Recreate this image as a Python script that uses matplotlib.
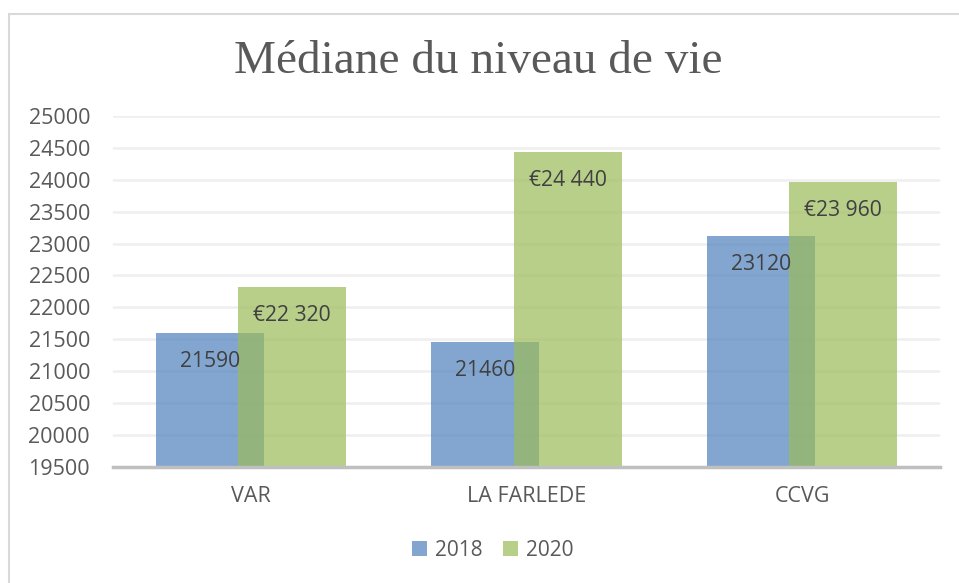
import matplotlib
matplotlib.use("Agg")
import matplotlib.pyplot as plt
from matplotlib.patches import Rectangle
import numpy as np

categories = ["VAR", "LA FARLEDE", "CCVG"]
series_names = ["2018", "2020"]
values_2018 = [21590, 21460, 23120]
values_2020 = [22320, 24440, 23960]
labels_2018 = ["21590", "21460", "23120"]
labels_2020 = ["€22 320", "€24 440", "€23 960"]
yticks = list(range(19500, 25001, 500))

plt.rcParams['font.family'] = ['Open Sans', 'DejaVu Sans']

W, H = 959, 583
fig = plt.figure(figsize=(W / 100, H / 100), dpi=100)
fig.patch.set_facecolor("white")

# outer chart border
fig.patches.append(Rectangle((8.5 / W, -0.05), 1.2, (583 - 13.5) / H + 0.05,
                             transform=fig.transFigure, fill=False,
                             edgecolor="#D9D9D9", linewidth=1.5))

ax = fig.add_axes([113 / W, (583 - 466.7) / H, (940 - 113) / W, (466.7 - 116) / H])
x = np.arange(len(categories))
width = 0.392
off = 0.149
blue = "#4F81BD"
green = "#9BBB59"
b1 = ax.bar(x - off, values_2018, width, color=blue, alpha=0.7, label=series_names[0], zorder=2)
b2 = ax.bar(x + off, values_2020, width, color=green, alpha=0.7, label=series_names[1], zorder=3)

ax.set_xlim(-0.5, 2.5)
ax.set_ylim(19500, 25000)
ax.set_yticks(yticks)
ax.set_yticklabels([str(t) for t in yticks])
ax.set_xticks(x)
ax.set_xticklabels(categories)
ax.tick_params(axis="y", length=0, pad=16.5, labelsize=15.5, labelcolor="#595959")
ax.tick_params(axis="x", length=0, pad=14, labelsize=15.5, labelcolor="#595959")
ax.grid(axis="y", color="#EFEFEF", linewidth=1.8, zorder=0)
ax.set_axisbelow(True)
for s in ["top", "right", "left"]:
    ax.spines[s].set_visible(False)
ax.spines["bottom"].set_color("#BFBFBF")
ax.spines["bottom"].set_linewidth(2.5)
ax.spines["bottom"].set_zorder(4)

for xi, v, lab in zip(x - off, values_2018, labels_2018):
    ax.annotate(lab, (xi, v), xytext=(0, -20.5), textcoords="offset points",
                ha="center", va="center", fontsize=15.2, color="#404040", zorder=5)
for xi, v, lab in zip(x + off, values_2020, labels_2020):
    ax.annotate(lab, (xi, v), xytext=(0, -20.5), textcoords="offset points",
                ha="center", va="center", fontsize=15.2, color="#404040", zorder=5)

fig.text(478 / W, 1 - 62 / H, "Médiane du niveau de vie", ha="center", va="center",
         fontsize=34, color="#595959", family=["Liberation Serif"])

leg = fig.legend(handles=[b1, b2], loc="center", bbox_to_anchor=(493 / W, 1 - 550 / H),
                 ncol=2, frameon=False, fontsize=15, handlelength=0.7, handleheight=0.7,
                 handletextpad=0.4, columnspacing=1.0, labelcolor="#595959")

fig.savefig("out.png", dpi=100)
